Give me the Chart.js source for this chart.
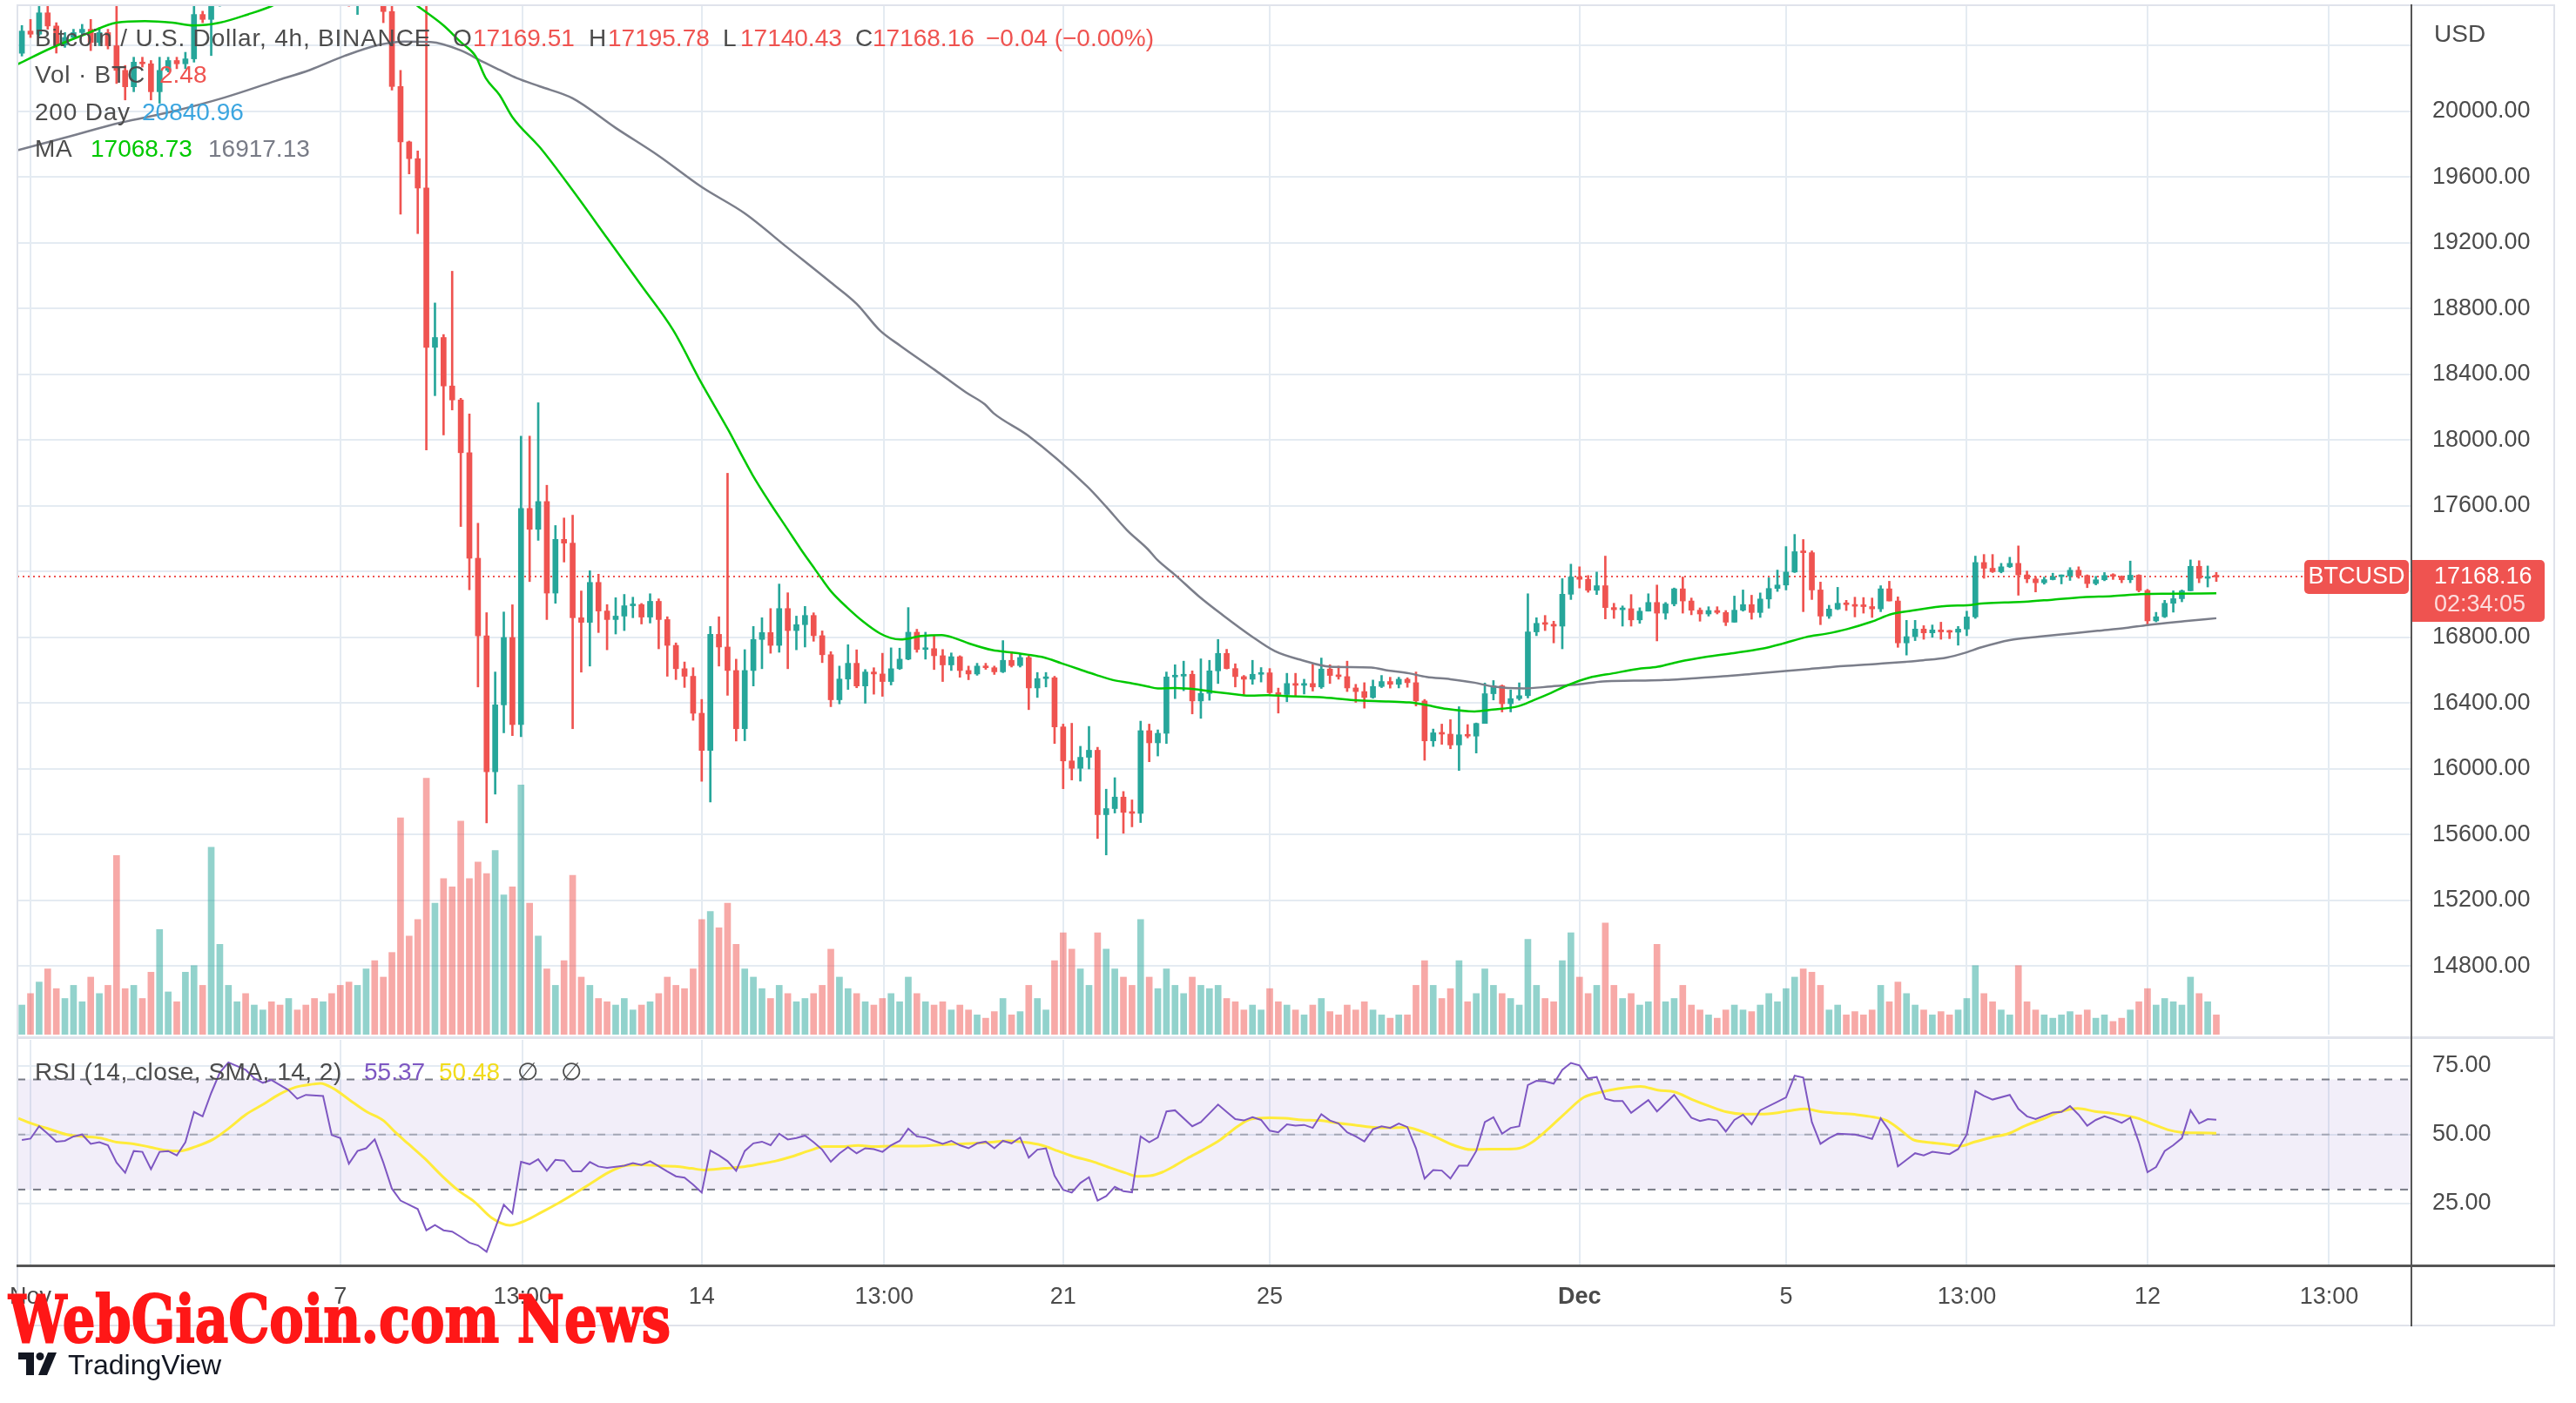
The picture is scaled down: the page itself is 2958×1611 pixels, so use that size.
<!DOCTYPE html>
<html>
<head>
<meta charset="utf-8">
<title>Bitcoin / U.S. Dollar, 4h, BINANCE</title>
<script src="https://cdn.jsdelivr.net/npm/chart.js@4.4.0/dist/chart.umd.min.js"></script>
<style>
  html, body { margin: 0; padding: 0; background: #fff; }
  #page { position: relative; width: 2958px; height: 1611px; overflow: hidden; font-family: 'Liberation Sans', Arial, sans-serif; }
  .pane { position: absolute; left: 0; width: 2958px; }
  .ln { position: absolute; }
  .lg { position: absolute; font-size: 28px; line-height: 28px; white-space: nowrap; color: #4c4c4c; }
  .sp { letter-spacing: 0.8px; }
  .sp2 { letter-spacing: 0.5px; }
  #wm { position: absolute; left: 10px; top: 1478px; font: bold 75px 'DejaVu Serif', 'Liberation Serif', serif; line-height: 75px; color: #ff1717; -webkit-text-stroke: 2px #ff1717; white-space: nowrap; transform-origin: left top; }
  #tvtext { position: absolute; left: 78px; top: 1551px; font-size: 32px; line-height: 32px; color: #131722; }
</style>
</head>
<body>
<div id="page">
  <div class="pane" style="top:0;height:1192px"><canvas id="priceChart"></canvas></div>
  <div class="pane" style="top:1192px;height:331px"><canvas id="rsiChart"></canvas></div>

  <div class="ln" style="left:19px;top:5px;width:2915px;height:2px;background:#e0e3eb"></div>
  <div class="ln" style="left:19px;top:5px;width:2px;height:1518px;background:#e0e3eb"></div>
  <div class="ln" style="left:2932px;top:5px;width:2px;height:1518px;background:#e0e3eb"></div>
  <div class="ln" style="left:19px;top:1190px;width:2915px;height:3px;background:#e0e3eb"></div>
  <div class="ln" style="left:19px;top:1521px;width:2915px;height:2px;background:#e0e3eb"></div>
  <div class="ln" style="left:2768px;top:5px;width:2px;height:1518px;background:#555"></div>
  <div class="ln" style="left:19px;top:1452px;width:2915px;height:3px;background:#555"></div>

  <span class="lg sp" style="left:40px;top:30px">Bitcoin / U.S. Dollar, 4h, BINANCE</span>
  <span class="lg" style="left:520px;top:30px">O</span><span class="lg" style="left:543px;top:30px;color:#ef5350">17169.51</span>
  <span class="lg" style="left:676px;top:30px">H</span><span class="lg" style="left:698px;top:30px;color:#ef5350">17195.78</span>
  <span class="lg" style="left:830px;top:30px">L</span><span class="lg" style="left:850px;top:30px;color:#ef5350">17140.43</span>
  <span class="lg" style="left:982px;top:30px">C</span><span class="lg" style="left:1002px;top:30px;color:#ef5350">17168.16</span>
  <span class="lg" style="left:1132px;top:30px;color:#ef5350">−0.04 (−0.00%)</span>

  <span class="lg sp" style="left:40px;top:72px">Vol · BTC</span>
  <span class="lg" style="left:183px;top:72px;color:#ef5350">2.48</span>
  <span class="lg sp" style="left:40px;top:115px">200 Day</span>
  <span class="lg" style="left:163px;top:115px;color:#3ca6e0">20840.96</span>
  <span class="lg sp" style="left:40px;top:157px">MA</span>
  <span class="lg" style="left:104px;top:157px;color:#00c800">17068.73</span>
  <span class="lg" style="left:239px;top:157px;color:#787b86">16917.13</span>

  <span class="lg sp2" style="left:40px;top:1217px">RSI (14, close, SMA, 14, 2)</span>
  <span class="lg" style="left:418px;top:1217px;color:#7e57c2">55.37</span>
  <span class="lg" style="left:504px;top:1217px;color:#f2dc1d">50.48</span>
  <span class="lg" style="left:594px;top:1217px">∅</span>
  <span class="lg" style="left:644px;top:1217px">∅</span>

  <span class="lg" style="left:2795px;top:25px">USD</span>

  <div id="wm">WebGiaCoin.com News</div>
  <svg style="position:absolute;left:21px;top:1553px" width="48" height="26" viewBox="0 0 48 26">
    <path d="M0 0 H18 V26 H9 V8 H0 Z" fill="#131722"/>
    <circle cx="25" cy="4.5" r="4.5" fill="#131722"/>
    <path d="M34 0 H44 L33 26 H23 Z" fill="#131722"/>
  </svg>
  <div id="tvtext">TradingView</div>
</div>

<script>
// ---- candles: index -1 is Oct 31 20:00, one step = 4h, index 0 = Nov 1 00:00
const firstIndex = -1;
const firstOpen = 20354;

const closes = [
  20489, 20470, 20600, 20520, 20405, 20450, 20480, 20500, 20420, 20480,
  20400, 20250, 20150, 20300, 20290, 20120, 20250, 20310, 20290, 20320,
  20590, 20560, 20660, 20850, 21100, 21250, 21150, 21220, 21280, 21200,
  21150, 21250, 21200, 21100, 21000, 21050, 20950, 20850, 20700, 20750,
  20780, 20680, 20608, 20152, 19815, 19713, 19534, 18565, 18625, 18330,
  18245, 17924, 17282, 16810, 15983, 16390, 16800, 16270, 17585, 17458,
  17627, 17070, 17397, 17374, 16920, 16892, 17135, 16961, 16909, 16930,
  16993, 17000, 16924, 17020, 16909, 16752, 16610, 16564, 16339, 16113,
  16819, 16742, 16599, 16245, 16599, 16788, 16830, 16752, 16976, 16842,
  16878, 16934, 16811, 16695, 16421, 16547, 16643, 16505, 16590, 16578,
  16532, 16610, 16668, 16832, 16727, 16732, 16689, 16633, 16683, 16599,
  16578, 16626, 16616, 16591, 16661, 16629, 16678, 16493, 16550, 16555,
  16256, 16049, 16004, 16071, 16114, 15722, 15759, 15829, 15736, 15730,
  16233, 16159, 16217, 16560, 16565, 16576, 16414, 16460, 16597, 16703,
  16611, 16562, 16546, 16576, 16585, 16464, 16453, 16520, 16509, 16520,
  16499, 16608, 16569, 16562, 16493, 16471, 16435, 16502, 16532, 16515,
  16546, 16525, 16414, 16171, 16220, 16212, 16146, 16208, 16200, 16277,
  16458, 16506, 16397, 16428, 16446, 16834, 16886, 16880, 16869, 17063,
  17168, 17154, 17087, 17115, 16982, 16969, 16975, 16907, 16960, 17013,
  16948, 17004, 17096, 17022, 16966, 16943, 16964, 16952, 16893, 16966,
  17000, 16952, 17034, 17098, 17119, 17198, 17322, 17316, 17089, 16930,
  16973, 17008, 17000, 16990, 16988, 16974, 17096, 17022, 16767, 16805,
  16851, 16828, 16846, 16834, 16832, 16851, 16925, 17256, 17221, 17200,
  17230, 17251, 17181, 17156, 17133, 17152, 17170, 17174, 17209, 17177,
  17128, 17151, 17177, 17172, 17151, 17179, 17086, 16901, 16926, 17008,
  17036, 17084, 17233, 17160, 17169.51, 17168.16
];

const highs = [
  20523, 20560, 20640, 20640, 20540, 20480, 20500, 20530, 20560, 20510,
  20500, 20640, 20280, 20330, 20330, 20310, 20330, 20330, 20330, 20360,
  20640, 20610, 20720, 20900, 21150, 21300, 21280, 21260, 21350, 21300,
  21250, 21300, 21280, 21220, 21120, 21100, 21080, 20980, 20870, 20800,
  20850, 20800, 20720, 20650, 20250, 19820, 19760, 20700, 18835, 18643,
  19028, 18255, 18160, 17495, 16951, 16590, 16955, 16999, 18025, 18025,
  18228, 17726, 17481, 17527, 17544, 17083, 17206, 17185, 17000, 17042,
  17062, 17045, 17007, 17066, 17035, 16926, 16767, 16651, 16616, 16423,
  16867, 16926, 17799, 16668, 16726, 16867, 16920, 16976, 17125, 17072,
  16930, 16989, 16950, 16840, 16714, 16626, 16756, 16725, 16605, 16616,
  16704, 16737, 16735, 16982, 16850, 16832, 16810, 16727, 16706, 16689,
  16626, 16643, 16643, 16626, 16781, 16714, 16700, 16687, 16587, 16587,
  16564, 16273, 16278, 16138, 16259, 16132, 15877, 15947, 15863, 15812,
  16291, 16273, 16238, 16590, 16634, 16656, 16597, 16670, 16661, 16788,
  16728, 16640, 16569, 16661, 16617, 16611, 16492, 16582, 16582, 16546,
  16638, 16675, 16634, 16626, 16656, 16515, 16525, 16541, 16569, 16558,
  16558, 16555, 16590, 16423, 16243, 16273, 16300, 16379, 16270, 16280,
  16523, 16538, 16511, 16481, 16524, 17066, 16920, 16934, 16899, 17158,
  17246, 17230, 17177, 17198, 17295, 17008, 16992, 17061, 16981, 17066,
  17119, 17013, 17101, 17168, 17040, 16980, 16987, 16987, 16964, 17052,
  17089, 17057, 17071, 17163, 17210, 17353, 17427, 17396, 17327, 17137,
  16996, 17105, 17026, 17045, 17043, 17040, 17115, 17142, 17047, 16904,
  16904, 16872, 16876, 16893, 16844, 16867, 16960, 17295, 17305, 17305,
  17251, 17288, 17357, 17204, 17170, 17167, 17191, 17181, 17225, 17230,
  17181, 17172, 17195, 17188, 17175, 17265, 17182, 17093, 16953, 17026,
  17084, 17089, 17272, 17267, 17235, 17195.78
];

const lows = [
  20337, 20450, 20460, 20500, 20355, 20390, 20440, 20470, 20370, 20400,
  20380, 20170, 20070, 20120, 20270, 20070, 20050, 20240, 20260, 20260,
  20300, 20540, 20340, 20640, 20820, 21050, 21100, 21100, 21180, 21150,
  21100, 21120, 21150, 21050, 20950, 20950, 20880, 20780, 20640, 20590,
  20700, 20650, 20540, 20130, 19375, 19620, 19257, 17941, 18271, 18032,
  18184, 17475, 17090, 16499, 15672, 15847, 16220, 16203, 16197, 17140,
  17391, 16909, 17008, 17259, 16245, 16589, 16626, 16830, 16725, 16821,
  16842, 16920, 16882, 16888, 16731, 16564, 16544, 16496, 16296, 15925,
  15799, 16626, 16448, 16170, 16172, 16505, 16610, 16704, 16710, 16610,
  16725, 16742, 16777, 16647, 16379, 16396, 16484, 16494, 16400, 16455,
  16442, 16511, 16605, 16664, 16710, 16668, 16605, 16532, 16599, 16558,
  16543, 16570, 16606, 16575, 16586, 16620, 16620, 16361, 16435, 16499,
  16155, 15880, 15933, 15926, 16000, 15577, 15477, 15732, 15609, 15648,
  15674, 16044, 16079, 16155, 16428, 16476, 16335, 16308, 16418, 16520,
  16608, 16499, 16453, 16515, 16529, 16458, 16340, 16409, 16446, 16456,
  16474, 16490, 16520, 16546, 16471, 16405, 16370, 16430, 16495, 16492,
  16493, 16497, 16383, 16053, 16137, 16150, 16123, 15991, 16189, 16097,
  16277, 16420, 16347, 16347, 16418, 16432, 16811, 16842, 16767, 16731,
  17031, 17101, 17075, 17061, 16913, 16916, 16869, 16869, 16886, 16960,
  16779, 16911, 16992, 16948, 16938, 16899, 16930, 16943, 16872, 16893,
  16960, 16911, 16922, 16978, 17080, 17089, 17195, 16957, 17031, 16878,
  16916, 16969, 16964, 16925, 16948, 16922, 16957, 17022, 16740, 16693,
  16781, 16789, 16801, 16789, 16793, 16753, 16811, 16916, 17160, 17195,
  17193, 17225, 17057, 17133, 17077, 17124, 17150, 17126, 17147, 17160,
  17103, 17120, 17145, 17153, 17133, 17133, 17077, 16873, 16895, 16921,
  16954, 17017, 17084, 17133, 17107, 17140.43
];

// volume, relative units (last bar = 2.48K BTC)
const volumes = [
  18, 25, 32, 40, 28, 22, 30, 20, 35, 25,
  30, 109, 28, 30, 22, 38, 64, 26, 20, 38,
  42, 30, 114, 55, 30, 20, 25, 18, 15, 20,
  18, 22, 15, 18, 22, 20, 25, 30, 32, 30,
  40, 45, 35, 50, 132, 60, 70, 156, 80, 95,
  90, 130, 95, 105, 98, 112, 85, 90, 152, 80,
  60, 40, 30, 45, 97, 35, 30, 22, 20, 18,
  22, 15, 18, 20, 25, 35, 30, 28, 40, 70,
  75, 65, 80, 55, 40, 35, 28, 22, 30, 25,
  20, 22, 25, 30, 52, 35, 28, 25, 20, 18,
  22, 25, 20, 35, 25, 20, 18, 20, 15, 18,
  15, 12, 10, 14, 22, 12, 14, 30, 22, 15,
  45, 62, 52, 40, 30, 62, 52, 40, 35, 30,
  70, 35, 28, 40, 30, 25, 35, 30, 28, 30,
  22, 20, 15, 18, 15, 28, 20, 18, 15, 12,
  18, 22, 14, 12, 18, 15, 20, 15, 12, 10,
  12, 12, 30, 45, 30, 22, 28, 45, 20, 25,
  40, 30, 25, 22, 18, 58, 30, 22, 20, 45,
  62, 35, 25, 30, 68, 30, 22, 25, 18, 20,
  55, 20, 22, 30, 18, 15, 12, 10, 15, 18,
  15, 14, 18, 25, 20, 28, 35, 40, 38, 30,
  15, 18, 12, 14, 12, 15, 30, 20, 32, 25,
  18, 15, 12, 14, 12, 15, 22, 42, 25, 20,
  15, 12, 42, 20, 15, 12, 10, 12, 14, 12,
  15, 10, 12, 8, 10, 15, 20, 28, 18, 22,
  20, 18, 35, 25, 20, 12
];

// moving averages [candle index, price]
const maFast = [
  [-1.5, 20287], [2.5, 20388], [6.5, 20473], [10, 20540], [13.3, 20550], [16.5, 20540], [18.9, 20523],
  [22, 20540], [25.3, 20591], [28, 20641], [31, 20720], [35, 20780], [39, 20790], [43, 20720],
  [45, 20641], [48, 20523], [50, 20422], [51.7, 20338], [52.9, 20203], [54.5, 20101], [56, 19966],
  [59.2, 19781], [63, 19520], [67, 19230], [71, 18940], [74.7, 18668], [77.9, 18354], [81.1, 18061],
  [82.7, 17904], [83.9, 17789], [85.9, 17621], [87.9, 17464], [89.5, 17338], [90.9, 17234],
  [91.9, 17160], [93.1, 17076], [94.9, 16982], [96.7, 16899], [98.7, 16825], [99.9, 16798],
  [101.1, 16788], [103.5, 16809], [105.9, 16815], [107.5, 16794], [109.1, 16763], [111.8, 16723],
  [113.8, 16710], [115.8, 16696], [117.8, 16678], [119.8, 16643], [121.8, 16608], [123.8, 16573],
  [125.8, 16541], [127.8, 16523], [129.8, 16502], [131, 16490], [133, 16493], [135.4, 16485],
  [137.8, 16467], [140.2, 16453], [141.8, 16446], [143.8, 16449], [145.8, 16444], [149.8, 16437],
  [153.8, 16419], [157.8, 16411], [160.2, 16405], [161.8, 16393], [164.6, 16365], [167.8, 16350],
  [169.9, 16361], [172.9, 16382], [174.7, 16419], [176.7, 16463], [178.7, 16511], [181.1, 16555],
  [183.9, 16582], [186.7, 16608], [189.1, 16622], [191.5, 16652], [194.7, 16682], [197.9, 16705],
  [201.1, 16731], [203.5, 16761], [206.3, 16802], [208.7, 16823], [211.1, 16851], [213.9, 16895],
  [216.3, 16943], [218.7, 16964], [222.7, 16992], [225.1, 16996], [226.7, 17006], [229.4, 17013],
  [231.7, 17017], [235.1, 17031], [238.5, 17045], [241.9, 17052], [245.2, 17063], [248.6, 17066],
  [254, 17068.73]
];

const maSlow = [
  [-1.5, 19764], [4.5, 19848], [10.5, 19932], [16.5, 20000], [22.5, 20084], [28.5, 20186],
  [32.5, 20253], [36.5, 20338], [40.5, 20405], [43.5, 20425], [46.5, 20422], [50, 20371],
  [52.5, 20304], [54.5, 20253], [56.5, 20203], [59.2, 20152], [63, 20080], [68, 19900],
  [73, 19730], [78, 19540], [83, 19380], [88, 19170], [93, 18960], [96, 18830], [98.7, 18668],
  [101.1, 18574], [105.1, 18427], [108.7, 18291], [110.9, 18218], [111.9, 18165], [115.9, 18029],
  [122.8, 17718], [125, 17595], [127.4, 17454], [129.8, 17339], [131, 17269], [133, 17181],
  [135.8, 17049], [138.6, 16934], [141.8, 16811], [144.6, 16717], [147.8, 16661], [151, 16622],
  [153, 16620], [155.8, 16617], [157.8, 16599], [160.2, 16582], [162.2, 16560], [165, 16546],
  [167.8, 16525], [169.9, 16502], [173.5, 16490], [176.7, 16502], [179.9, 16515], [182.7, 16532],
  [186.3, 16537], [189.9, 16541], [192.7, 16550], [196.7, 16564], [200.7, 16582], [203.9, 16596],
  [206.7, 16608], [210.7, 16626], [214.7, 16640], [217.9, 16652], [219.9, 16661], [222.7, 16678],
  [224.7, 16705], [226.7, 16740], [230, 16784], [233.4, 16805], [236.8, 16823], [240.2, 16841],
  [243.5, 16858], [246, 16876], [250.3, 16899], [254, 16917.13]
];

// RSI 14 [candle index, value]
const rsiPoints = [
  [-1, 48], [0, 48.5], [1, 53], [2, 50.3], [3, 47.4], [4, 47.7], [5, 49.3], [6, 50], [7, 46.6], [8, 47.2],
  [9, 46.1], [10, 39.8], [11, 36.1], [12, 44], [13, 43.7], [14, 37.4], [15, 43.7], [16, 44], [17, 42.4],
  [18, 47.2], [19, 58.2], [20, 56.6], [21, 65.1], [22, 72.5], [23, 76.2], [25, 73.5], [26, 70.4],
  [27, 68.8], [28, 69.8], [30, 66.1], [31, 63], [32, 64.4], [34, 64], [35, 49.8], [36, 48.7], [37, 39.4],
  [38, 44], [39, 45], [40, 48.2], [41, 39.8], [42, 30.3], [43, 26], [45, 22.9], [46, 15.2], [47, 17.1],
  [48, 15.2], [49, 14.7], [50, 12.8], [51, 10.7], [52, 9.7], [53, 7.4], [55, 24.5], [56, 21.3], [57, 40.1],
  [58, 39.2], [59, 41], [60, 36.8], [61, 40.8], [62, 40.5], [63, 36.6], [64, 36.6], [65, 40], [66, 38.4],
  [67, 37.9], [69, 38.7], [70, 39.6], [71, 38.9], [72, 40.3], [73, 38.5], [74, 36.6], [75, 34.8], [76, 34.3],
  [77, 31.8], [78, 28.9], [79, 44.2], [80, 42.4], [81, 40.3], [82, 36.8], [83, 44], [84, 46.8], [85, 47.4],
  [86, 46.1], [87, 50.3], [88, 48.2], [89, 48.7], [90, 49.6], [91, 47.2], [92, 44.5], [93, 40.1], [94, 43.1],
  [95, 45.4], [96, 43.2], [97, 45], [98, 44.7], [99, 43.7], [100, 46.1], [101, 47.7], [102, 52.1],
  [103, 49.3], [104, 48.9], [105, 47.7], [106, 46.6], [107, 47.7], [108, 46.1], [109, 45], [110, 46.8],
  [111, 47.4], [112, 45], [113, 47.7], [114, 46.8], [115, 48.9], [116, 41.6], [117, 44.5], [118, 45],
  [119, 35], [120, 29.9], [121, 28.9], [122, 32.4], [123, 34.5], [124, 26], [125, 27.6], [126, 31],
  [127, 29.4], [128, 29], [129, 49.3], [130, 47.2], [131, 48.9], [132, 58.4], [133, 58.8], [135, 53],
  [136, 54.5], [138, 60.9], [139, 58.2], [140, 55.6], [141, 55.1], [142, 56.3], [143, 55.3], [144, 51.4],
  [145, 50.8], [146, 53.7], [147, 53.2], [148, 53.5], [149, 52.4], [150, 57.4], [151, 55.1], [152, 54],
  [153, 50.8], [154, 49.3], [155, 47.5], [156, 51.9], [157, 53], [158, 52.4], [159, 54], [160, 52.7],
  [161, 45], [162, 34], [163, 37.1], [164, 36.9], [165, 34], [166, 38.7], [167, 38.7], [168, 44],
  [169, 54.5], [170, 56.3], [171, 50.3], [172, 52.4], [173, 53], [174, 68], [175, 69.5], [176, 69.3],
  [177, 68.5], [178, 73.5], [179, 76], [180, 75.1], [181, 70.4], [182, 70.9], [183, 63], [184, 62.2],
  [185, 62.2], [186, 57.9], [188, 62.5], [189, 58.4], [191, 64.4], [193, 56.1], [194, 54.9], [195, 55.6],
  [196, 55.1], [197, 51.1], [198, 55.3], [199, 57.2], [200, 53.7], [201, 58.8], [203, 61.9], [204, 63.5],
  [205, 71.4], [206, 70.7], [207, 54.5], [208, 46.6], [209, 48.7], [210, 50.3], [212, 50], [213, 49.3],
  [214, 48.4], [215, 55.9], [216, 51.4], [217, 38.4], [218, 40.8], [219, 43.2], [220, 42.4], [221, 43.7],
  [223, 42.9], [224, 44.7], [225, 50], [226, 65.8], [227, 64], [228, 62.7], [230, 64.4], [231, 59.3],
  [232, 56.6], [233, 55.6], [235, 58], [236, 58.2], [237, 60.3], [238, 57.2], [239, 53.2], [240, 55.3],
  [241, 56.6], [242, 55.6], [243, 54.2], [244, 56.1], [245, 47.2], [246, 36.3], [247, 38.2], [248, 44],
  [249, 46.1], [250, 48.7], [251, 58.8], [252, 54], [253, 55.6], [254, 55.37]
];

// SMA 14 of RSI [candle index, value]
const rsiSma = [
  [-1.4, 55.9], [0.3, 53.8], [2.3, 51.9], [4.2, 50], [6.1, 49.3], [8.1, 48.7], [10, 47.2], [12, 46.6],
  [13.9, 45.4], [15.8, 44.2], [17.3, 44], [19.2, 45.6], [21.2, 48.2], [23.1, 52.4], [25, 57.2], [27, 60.9],
  [28.9, 64.6], [30.8, 67.2], [32.8, 68.3], [33.7, 68.6], [35.2, 66.7], [37.1, 62.5], [39.1, 58.2],
  [41, 55.1], [42.4, 50.8], [43.9, 46.6], [45.8, 41.3], [47.8, 35], [49.7, 29.7], [51.6, 25.5],
  [53.6, 19.7], [55.7, 17], [57.5, 18.7], [59.4, 21.8], [61.3, 25], [63.3, 28.7], [65.2, 32.4],
  [67.1, 36.1], [69.1, 38.7], [71, 39], [72.9, 38.7], [74.9, 38.4], [76.8, 37.7], [78.3, 37.1],
  [80.7, 37.7], [82.6, 38.2], [84.6, 39.2], [86.5, 40.3], [88.4, 41.9], [90.4, 44], [92.3, 45.6],
  [94.2, 45.6], [96.2, 46], [98.1, 45.6], [100, 45.8], [102, 45.8], [103.9, 45.9], [105.9, 46.3],
  [107.8, 46.6], [109.7, 46.8], [111.7, 47.2], [113.6, 47.7], [115.5, 47.2], [117.5, 46.1], [119.4, 44],
  [121.3, 41.9], [123.3, 40.3], [125.2, 38.2], [127.2, 36.1], [128.6, 34.8], [130.1, 35], [131.5, 36.3],
  [133, 38.7], [134.4, 41.3], [136.3, 44.5], [138.3, 48.2], [140.3, 53], [141.8, 55.6], [144, 56.1],
  [145.8, 55.9], [147.8, 55.3], [149.8, 55.1], [151.8, 54.2], [153.8, 53.5], [155.8, 52.7], [157.9, 52.4],
  [159.9, 52.6], [161.4, 51.4], [163.4, 48.9], [165.4, 46.1], [167.4, 44.5], [169.5, 44.7], [171.5, 44.7],
  [173, 45], [174.5, 47.2], [176.5, 52.4], [178.5, 58.2], [180.5, 63.5], [182.5, 65.4], [184.5, 66.7],
  [187.1, 67.5], [189.1, 66.1], [191.1, 65.4], [193.1, 62.7], [195.1, 60.3], [197.1, 58.2], [199.1, 57.4],
  [201.1, 57.4], [203.2, 58], [204.7, 58.8], [206.2, 59.3], [208.2, 58.2], [210.2, 57.7], [212.2, 57.2],
  [214.2, 56.3], [215.7, 55.1], [217.2, 51.9], [218.7, 48.2], [220.3, 47.2], [222.3, 46.6], [224.3, 45.8],
  [225.8, 47.2], [227.8, 48.9], [229.8, 50.3], [231.8, 53.2], [233.8, 55.6], [235.8, 58.2], [237.9, 59.5],
  [239.9, 58.4], [241.9, 57.7], [243.9, 56.6], [244.9, 55.9], [246.4, 54], [248.4, 51.7], [249.9, 50.8],
  [251.9, 50.6], [254, 50.48]
];

// axis ticks
const timeTickIdx = [0, 36, 57.2, 78, 99.2, 120, 144, 180, 204, 225, 246, 267.1];
const timeTickText = ['Nov', '7', '13:00', '14', '13:00', '21', '25', 'Dec', '5', '13:00', '12', '13:00'];
const priceTicks = [14800, 15200, 15600, 16000, 16400, 16800, 17200, 17600, 18000, 18400, 18800, 19200, 19600, 20000, 20400];
const rsiTicks = [25, 50, 75];
const lastPrice = 17168.16;
const countdown = '02:34:05';

// ---- styling
const UP = '#26a69a', DOWN = '#ef5350';
const UP_VOL = 'rgba(38,166,154,0.5)', DOWN_VOL = 'rgba(239,83,80,0.5)';
const GRID = '#e4ebf2', TXT = '#4a4a4a';
const X_MIN = -1.52, X_MAX = 276.67;

Chart.defaults.font.family = "'Liberation Sans', Arial, sans-serif";
Chart.defaults.color = TXT;

const bodies = [], wicks = [], vols = [], bodyColors = [], volColors = [];
for (let k = 0; k < closes.length; k++) {
  const x = firstIndex + k;
  const o = k === 0 ? firstOpen : closes[k - 1];
  const c = closes[k];
  const up = c >= o;
  bodies.push({x: x, y: [o, c]});
  wicks.push({x: x, y: [lows[k], highs[k]]});
  vols.push({x: x, y: volumes[k]});
  bodyColors.push(up ? UP : DOWN);
  volColors.push(up ? UP_VOL : DOWN_VOL);
}
const toXY = arr => arr.map(p => ({x: p[0], y: p[1]}));

// chart.js pads axes for their end labels; the panes here are fixed, so drop that
function fitX(h) {
  return s => { s.height = h; s.paddingLeft = 0; s.paddingRight = 0; };
}
function fitY(s) {
  s.width = 164; s.paddingTop = 0; s.paddingBottom = 0;
}

const priceMarks = {
  id: 'priceMarks',
  beforeDatasetsDraw(chart) {
    const {ctx, chartArea: a, scales: {y}} = chart;
    const py = Math.round(y.getPixelForValue(lastPrice));
    ctx.save();
    ctx.strokeStyle = DOWN;
    ctx.lineWidth = 2;
    ctx.setLineDash([2, 4]);
    ctx.beginPath();
    ctx.moveTo(a.left, py);
    ctx.lineTo(a.right, py);
    ctx.stroke();
    ctx.restore();
  },
  afterDraw(chart) {
    const {ctx, chartArea: a, scales: {y}} = chart;
    const py = Math.round(y.getPixelForValue(lastPrice));
    ctx.save();
    ctx.fillStyle = DOWN;
    ctx.beginPath();
    ctx.roundRect(a.right - 123, py - 19, 120, 39, 5);
    ctx.fill();
    ctx.beginPath();
    ctx.roundRect(a.right, py - 19, 153, 71, [0, 5, 5, 0]);
    ctx.fill();
    ctx.font = "27px 'Liberation Sans', Arial, sans-serif";
    ctx.textBaseline = 'middle';
    ctx.fillStyle = '#fff';
    ctx.textAlign = 'center';
    ctx.fillText('BTCUSD', a.right - 63, py + 1);
    ctx.textAlign = 'left';
    ctx.fillText(lastPrice.toFixed(2), a.right + 26, py + 1);
    ctx.fillStyle = 'rgba(255,255,255,0.8)';
    ctx.fillText(countdown, a.right + 26, py + 33);
    ctx.restore();
  }
};

new Chart(document.getElementById('priceChart'), {
  type: 'bar',
  data: {
    datasets: [
      { type: 'line', data: toXY(maFast), borderColor: '#00c800', borderWidth: 2.5, pointRadius: 0,
        cubicInterpolationMode: 'monotone', yAxisID: 'y', order: 1 },
      { type: 'line', data: toXY(maSlow), borderColor: '#7b7e8a', borderWidth: 2.5, pointRadius: 0,
        cubicInterpolationMode: 'monotone', yAxisID: 'y', order: 1 },
      { data: bodies, backgroundColor: bodyColors, barThickness: 6, minBarLength: 2, grouped: false,
        borderWidth: 0, yAxisID: 'y', order: 3 },
      { data: wicks, backgroundColor: bodyColors, barThickness: 2, grouped: false,
        borderWidth: 0, yAxisID: 'y', order: 4 },
      { data: vols, backgroundColor: volColors, barThickness: 7, grouped: false,
        borderWidth: 0, yAxisID: 'yv', order: 10 }
    ]
  },
  options: {
    animation: false,
    responsive: true,
    maintainAspectRatio: false,
    devicePixelRatio: 1,
    layout: { padding: { left: 20, right: 25, top: 7, bottom: 4 } },
    plugins: { legend: { display: false }, tooltip: { enabled: false } },
    scales: {
      x: {
        type: 'linear', min: X_MIN, max: X_MAX, offset: false,
        grid: { color: GRID, lineWidth: 2, drawTicks: false, offset: false },
        border: { display: false },
        ticks: { display: false },
        afterBuildTicks: s => { s.ticks = timeTickIdx.map(v => ({value: v})); },
        afterFit: fitX(0)
      },
      y: {
        position: 'right', min: 14384, max: 20641,
        grid: { color: GRID, lineWidth: 2, drawTicks: false },
        border: { display: false },
        ticks: { color: TXT, font: { size: 27 }, padding: 24,
          callback: v => (v >= 20400 ? '' : Number(v).toFixed(2)) },
        afterBuildTicks: s => { s.ticks = priceTicks.map(v => ({value: v})); },
        afterFit: fitY
      },
      yv: { display: false, min: 0, max: 626 }
    }
  },
  plugins: [priceMarks]
});

const rsiBand = {
  id: 'rsiBand',
  beforeDatasetsDraw(chart) {
    const {ctx, chartArea: a, scales: {y}} = chart;
    const y70 = y.getPixelForValue(70), y50 = y.getPixelForValue(50), y30 = y.getPixelForValue(30);
    ctx.save();
    ctx.fillStyle = 'rgba(126,87,194,0.1)';
    ctx.fillRect(a.left, y70, a.right - a.left, y30 - y70);
    ctx.lineWidth = 2;
    ctx.setLineDash([9, 9]);
    ctx.strokeStyle = '#787b86';
    [y70, y30].forEach(py => {
      ctx.beginPath(); ctx.moveTo(a.left, py); ctx.lineTo(a.right, py); ctx.stroke();
    });
    ctx.strokeStyle = 'rgba(120,123,134,0.55)';
    ctx.beginPath(); ctx.moveTo(a.left, y50); ctx.lineTo(a.right, y50); ctx.stroke();
    ctx.restore();
  }
};

new Chart(document.getElementById('rsiChart'), {
  type: 'line',
  data: {
    datasets: [
      { data: toXY(rsiSma), borderColor: '#ffeb3b', borderWidth: 3, pointRadius: 0,
        cubicInterpolationMode: 'monotone', order: 2 },
      { data: toXY(rsiPoints), borderColor: '#7e57c2', borderWidth: 2, pointRadius: 0, tension: 0, order: 1 }
    ]
  },
  options: {
    animation: false,
    responsive: true,
    maintainAspectRatio: false,
    devicePixelRatio: 1,
    layout: { padding: { left: 20, right: 25, top: 2, bottom: 0 } },
    plugins: { legend: { display: false }, tooltip: { enabled: false } },
    scales: {
      x: {
        type: 'linear', min: X_MIN, max: X_MAX, offset: false,
        grid: { color: GRID, lineWidth: 2, drawTicks: false, offset: false },
        border: { display: false },
        ticks: {
          color: TXT, padding: 20, maxRotation: 0, autoSkip: false,
          font: c => ({ size: 27, weight: (c.tick && c.tick.label === 'Dec') ? 'bold' : 'normal' }),
          callback: v => { const k = timeTickIdx.indexOf(v); return k >= 0 ? timeTickText[k] : ''; }
        },
        afterBuildTicks: s => { s.ticks = timeTickIdx.map(v => ({value: v})); },
        afterFit: fitX(70)
      },
      y: {
        position: 'right', min: 2.44, max: 84.4,
        grid: { color: GRID, lineWidth: 2, drawTicks: false },
        border: { display: false },
        ticks: { color: TXT, font: { size: 27 }, padding: 24, callback: v => Number(v).toFixed(2) },
        afterBuildTicks: s => { s.ticks = rsiTicks.map(v => ({value: v})); },
        afterFit: fitY
      }
    }
  },
  plugins: [rsiBand]
});

// squeeze the watermark to its width in the picture
const wm = document.getElementById('wm');
wm.style.transform = 'scaleX(' + (760 / wm.getBoundingClientRect().width) + ')';
</script>
</body>
</html>
